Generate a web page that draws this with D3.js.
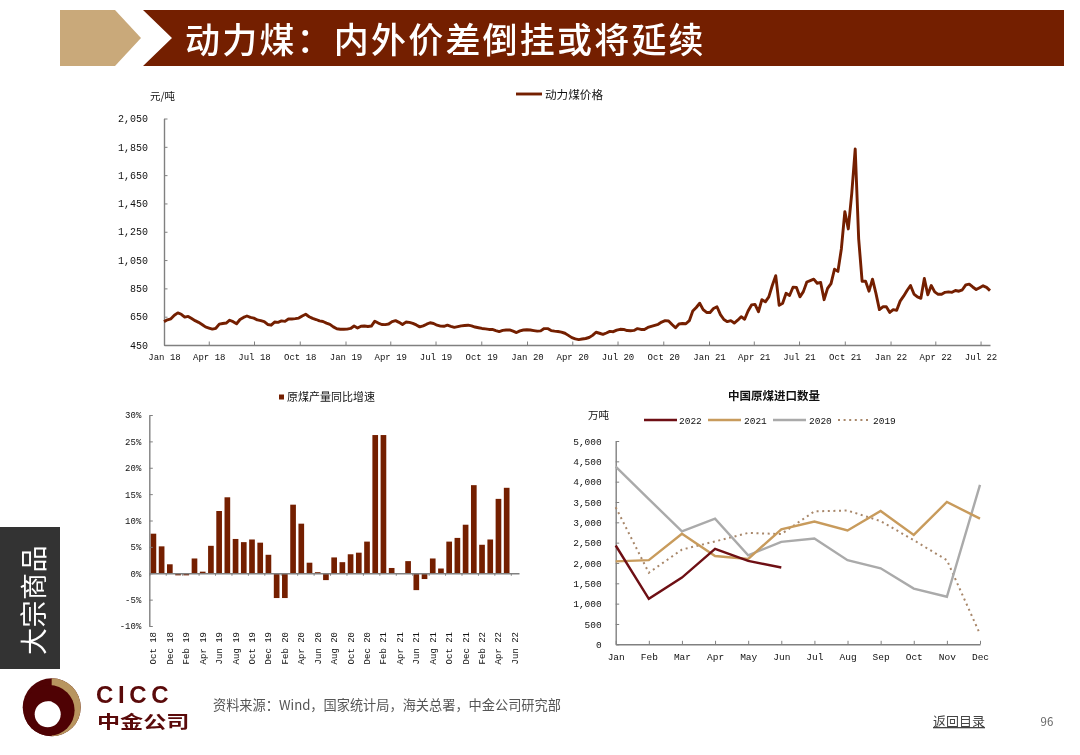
<!DOCTYPE html>
<html><head><meta charset="utf-8">
<script src="https://cdn.jsdelivr.net/npm/d3@7/dist/d3.min.js"></script>
<style>
html,body{margin:0;padding:0;background:#fff;overflow:hidden}
svg{display:block;filter:blur(0.4px)}
text{font-family:"Noto Sans CJK SC","Noto Sans",sans-serif}
.mono text,text.mono{font-family:"Liberation Mono","DejaVu Sans Mono",monospace;fill:#111}
</style></head><body>
<svg id="c" width="1080" height="755"></svg>
<script>
// ---------- data ----------
const slideTitle = "动力煤：内外价差倒挂或将延续";
const sideTitle = "大宗商品";
const sourceText = "资料来源：Wind，国家统计局，海关总署，中金公司研究部";
const priceStart = "2018-01-01", priceEnd = "2022-07-20";
const priceName = "动力煤价格", priceUnit = "元/吨";
const priceTicks = [450,650,850,1050,1250,1450,1650,1850,2050];
// roughly weekly readings of the thermal coal price
const priceValues = [
615,628,635,660,677,667,647,652,637,622,610,595,578,570,562,568,597,602,605,625,615,600,630,645,655,645,640,627,622,615,595,590,612,610,620,617,634,634,636,640,655,667,650,638,630,620,616,605,596,578,565,561,561,562,567,584,570,582,584,581,
584,618,605,595,594,598,615,622,610,595,612,610,603,592,578,585,597,607,602,590,583,582,590,582,575,580,585,588,590,585,577,572,567,564,560,560,552,545,553,556,556,548,538,550,556,558,556,552,548,550,566,566,552,548,545,
541,533,518,502,493,488,492,496,503,518,540,533,525,535,546,544,555,561,560,552,551,553,566,560,560,574,582,589,596,612,622,620,595,572,598,602,600,622,690,715,745,700,680,680,708,720,665,630,615,622,605,625,650,632,690,733,737,685,770,755,790,870,940,730,745,815,800,858,857,790,827,895,905,915,886,892,770,850,884,985,970,1130,1392,1270,1521,1835,1200,900,900,830,915,815,700,720,720,680,700,695,760,795,835,870,810,790,780,920,805,870,825,808,808,822,825,822,835,830,840,875,880,860,842,855,868,857,834];

const barName = "原煤产量同比增速";
const barMonths = ["Oct 18","Nov 18","Dec 18","Jan 19","Feb 19","Mar 19","Apr 19","May 19","Jun 19","Jul 19","Aug 19","Sep 19","Oct 19","Nov 19","Dec 19","Jan 20","Feb 20","Mar 20","Apr 20","May 20","Jun 20","Jul 20","Aug 20","Sep 20","Oct 20","Nov 20","Dec 20","Jan 21","Feb 21","Mar 21","Apr 21","May 21","Jun 21","Jul 21","Aug 21","Sep 21","Oct 21","Nov 21","Dec 21","Jan 22","Feb 22","Mar 22","Apr 22","May 22","Jun 22"];
const barValues = [7.5,5.1,1.7,-0.4,-0.4,2.8,0.3,5.2,11.8,14.4,6.5,5.9,6.4,5.8,3.5,-4.7,-4.7,13,9.4,2.0,0.2,-1.3,3.0,2.1,3.6,3.9,6.0,26.2,26.2,1.0,0,2.3,-3.2,-1.1,2.8,0.9,6.0,6.7,9.2,16.7,5.4,6.4,14.1,16.2,0];
const barTicks = [-10,-5,0,5,10,15,20,25,30];

const importTitle = "中国原煤进口数量", importUnit = "万吨";
const importMonths = ["Jan","Feb","Mar","Apr","May","Jun","Jul","Aug","Sep","Oct","Nov","Dec"];
const import2022 = [2430,1120,1640,2350,2050,1890];
const import2021 = [2040,2070,2720,2170,2100,2830,3020,2800,3280,2690,3500,3090];
const import2020 = [4370,3570,2780,3090,2190,2520,2600,2070,1870,1370,1170,3920];
const import2019 = [3370,1760,2330,2530,2740,2710,3270,3290,3030,2560,2070,250];
const importTicks = [0,500,1000,1500,2000,2500,3000,3500,4000,4500,5000];

// ---------- palette ----------
const BROWN="#741f00", TAN="#c9a97a", AXIS="#808080";

const svg = d3.select("#c");

// ---------- header ----------
svg.append("path").attr("d",d3.line()([[60,10],[115,10],[141,38],[115,66],[60,66]])+"Z").attr("fill",TAN);
svg.append("path").attr("d",d3.line()([[143,10],[1064,10],[1064,66],[143,66],[172,38]])+"Z").attr("fill",BROWN);
svg.append("text").attr("x",185).attr("y",53).attr("font-size",35).attr("letter-spacing",2.2)
  .attr("fill","#fff").attr("font-weight",500).text(slideTitle);

// ---------- side tab ----------
svg.append("rect").attr("x",0).attr("y",527).attr("width",60).attr("height",142).attr("fill","#333");
svg.append("text").attr("transform","translate(44,600) rotate(-90)").attr("text-anchor","middle")
  .attr("font-size",27).attr("letter-spacing",0.5).attr("fill","#fff").text(sideTitle);

// helper to style axes
function styleAxis(g,fs){
  g.classed("mono",true);
  g.selectAll(".domain").attr("stroke",AXIS).attr("stroke-width",1.4);
  g.selectAll(".tick line").attr("stroke",AXIS).attr("stroke-width",1);
  g.selectAll("text").attr("font-size",fs);
}

// ---------- top chart: price line ----------
(function(){
  const t0=new Date(priceStart+"T00:00:00"), t1=new Date(priceEnd+"T00:00:00");
  const x=d3.scaleTime().domain([t0,t1]).range([164,990]);
  const y=d3.scaleLinear().domain([450,2050]).range([345,118.5]);
  const dt=(t1-t0)/(priceValues.length-1);
  const xt=d3.timeMonth.every(3).range(t0,t1);
  svg.append("g").attr("transform","translate(0,345)")
    .call(d3.axisBottom(x).tickValues(xt).tickFormat(d3.timeFormat("%b %y")).tickSizeInner(-3.5).tickSizeOuter(0).tickPadding(9))
    .call(g=>styleAxis(g,9));
  svg.append("g").attr("transform","translate(164,0)")
    .call(d3.axisLeft(y).tickValues(priceTicks).tickFormat(d3.format(",")).tickSizeInner(-3.5).tickSizeOuter(0).tickPadding(16))
    .call(g=>styleAxis(g,10));
  svg.append("path").datum(priceValues)
    .attr("d",d3.line().x((d,i)=>x(new Date(+t0+i*dt))).y(d=>y(d)))
    .attr("fill","none").attr("stroke",BROWN).attr("stroke-width",2.9).attr("stroke-linejoin","round");
  svg.append("line").attr("x1",516).attr("x2",542).attr("y1",94).attr("y2",94).attr("stroke",BROWN).attr("stroke-width",2.9);
  svg.append("text").attr("x",545).attr("y",98.5).attr("font-size",11.6).attr("fill","#111").text(priceName);
  svg.append("text").attr("x",150).attr("y",100).attr("font-size",10.5).attr("fill","#111").text(priceUnit);
})();

// ---------- bottom-left chart: output growth bars ----------
(function(){
  const L=149.3,R=519;
  const x=d3.scaleBand().domain(barMonths).range([L,R]).paddingInner(0.31).paddingOuter(0.155);
  const xi=d3.scaleLinear().domain([0,barMonths.length]).range([L,R]);
  const y=d3.scaleLinear().domain([-10,30]).range([626,415]);
  svg.append("g").selectAll("rect").data(barValues).join("rect")
    .attr("x",(d,i)=>x(barMonths[i])).attr("width",x.bandwidth())
    .attr("y",d=>y(Math.max(d,0))).attr("height",d=>Math.abs(y(d)-y(0)))
    .attr("fill",BROWN);
  svg.append("g").attr("transform",`translate(${L},0)`)
    .call(d3.axisLeft(y).tickValues(barTicks).tickFormat(d=>d+"%").tickSizeInner(-3.5).tickSizeOuter(0).tickPadding(8))
    .call(g=>styleAxis(g,9));
  svg.append("g").attr("transform",`translate(0,${y(0)})`)
    .call(d3.axisBottom(xi).tickValues(d3.range(0,barMonths.length+1,2)).tickFormat("").tickSize(2.5).tickSizeOuter(0))
    .call(g=>styleAxis(g,9));
  const lab=svg.append("g").classed("mono",true);
  lab.selectAll("text").data(barMonths.filter((d,i)=>i%2===0)).join("text")
    .attr("transform",d=>`translate(${x(d)+x.bandwidth()/2+3},632) rotate(-90)`)
    .attr("text-anchor","end").attr("font-size",9).text(d=>d);
  svg.append("rect").attr("x",279).attr("y",394.5).attr("width",5).attr("height",5).attr("fill",BROWN);
  svg.append("text").attr("x",287).attr("y",401).attr("font-size",11).attr("fill","#111").text(barName);
})();

// ---------- bottom-right chart: imports ----------
(function(){
  const x=d3.scalePoint().domain(importMonths).range([615.7,980]);
  const y=d3.scaleLinear().domain([0,5000]).range([644.3,441]);
  svg.append("g").attr("transform","translate(0,644.3)")
    .call(d3.axisBottom(x).tickSizeInner(-3.5).tickSizeOuter(0).tickPadding(9))
    .call(g=>styleAxis(g,9.5));
  svg.append("g").attr("transform","translate(615.7,0)")
    .call(d3.axisLeft(y).tickValues(importTicks).tickFormat(d3.format(",")).tickSizeInner(-3.5).tickSizeOuter(0).tickPadding(14))
    .call(g=>styleAxis(g,9.5));
  const line=d3.line().x((d,i)=>x(importMonths[i])).y(d=>y(d));
  const series=[
    {name:"2019",v:import2019,c:"#a8876a",w:2,dash:"2 3.6",lx:838,tx:873},
    {name:"2020",v:import2020,c:"#aaaaaa",w:2.4,dash:null,lx:773,tx:809},
    {name:"2021",v:import2021,c:"#c89b5c",w:2.4,dash:null,lx:708,tx:744},
    {name:"2022",v:import2022,c:"#6e0f14",w:2.4,dash:null,lx:644,tx:679}
  ];
  series.forEach(s=>{
    svg.append("path").datum(s.v).attr("d",line).attr("fill","none").attr("stroke",s.c)
      .attr("stroke-width",s.w).attr("stroke-dasharray",s.dash);
    svg.append("line").attr("x1",s.lx).attr("x2",s.lx+33).attr("y1",420).attr("y2",420)
      .attr("stroke",s.c).attr("stroke-width",s.w).attr("stroke-dasharray",s.dash);
    svg.append("text").attr("class","mono").attr("x",s.tx).attr("y",424).attr("font-size",9.5).text(s.name);
  });
  svg.append("text").attr("x",774).attr("y",400).attr("text-anchor","middle").attr("font-size",11.5)
    .attr("font-weight",700).attr("fill","#111").text(importTitle);
  svg.append("text").attr("x",588).attr("y",419).attr("font-size",10.5).attr("fill","#111").text(importUnit);
})();

// ---------- footer: logo + source ----------
(function(){
  const cx=51.7,cy=707.3,R=29;
  const DARK="#4f0204",GOLD="#b8955f";
  const logo=svg.append("g");
  logo.append("circle").attr("cx",cx).attr("cy",cy).attr("r",R).attr("fill",DARK);
  logo.append("path").attr("d",d3.arc()({innerRadius:0,outerRadius:R,startAngle:0,endAngle:Math.PI}))
    .attr("transform",`translate(${cx},${cy})`).attr("fill",GOLD);
  logo.append("circle").attr("cx",cx-2.4).attr("cy",cy+3).attr("r",25.3).attr("fill",DARK);
  logo.append("circle").attr("cx",cx-4).attr("cy",cy+7).attr("r",13).attr("fill","#fff");
  logo.append("rect").attr("x",cx-4).attr("y",cy-5.8).attr("width",4).attr("height",12).attr("fill","#fff");
  svg.append("text").attr("x",96).attr("y",703).style("font-family","Liberation Sans")
    .attr("font-size",24).attr("font-weight",700).attr("letter-spacing",4.6).attr("fill","#5a0a0a").text("CICC");
  svg.append("text").attr("transform","translate(97,728) scale(1.32,1)").attr("font-size",17.5).attr("font-weight",700).attr("fill","#5a0a0a").text("中金公司");
  svg.append("text").attr("x",213).attr("y",710).attr("font-size",13.2).attr("fill","#555").text(sourceText);
  svg.append("text").attr("x",933).attr("y",726).attr("font-size",13).attr("fill","#444")
    .attr("text-decoration","underline").text("返回目录");
  svg.append("text").attr("x",1047).attr("y",726).attr("text-anchor","middle").attr("font-size",11.5).attr("fill","#666").text("96");
})();
</script>
</body></html>
